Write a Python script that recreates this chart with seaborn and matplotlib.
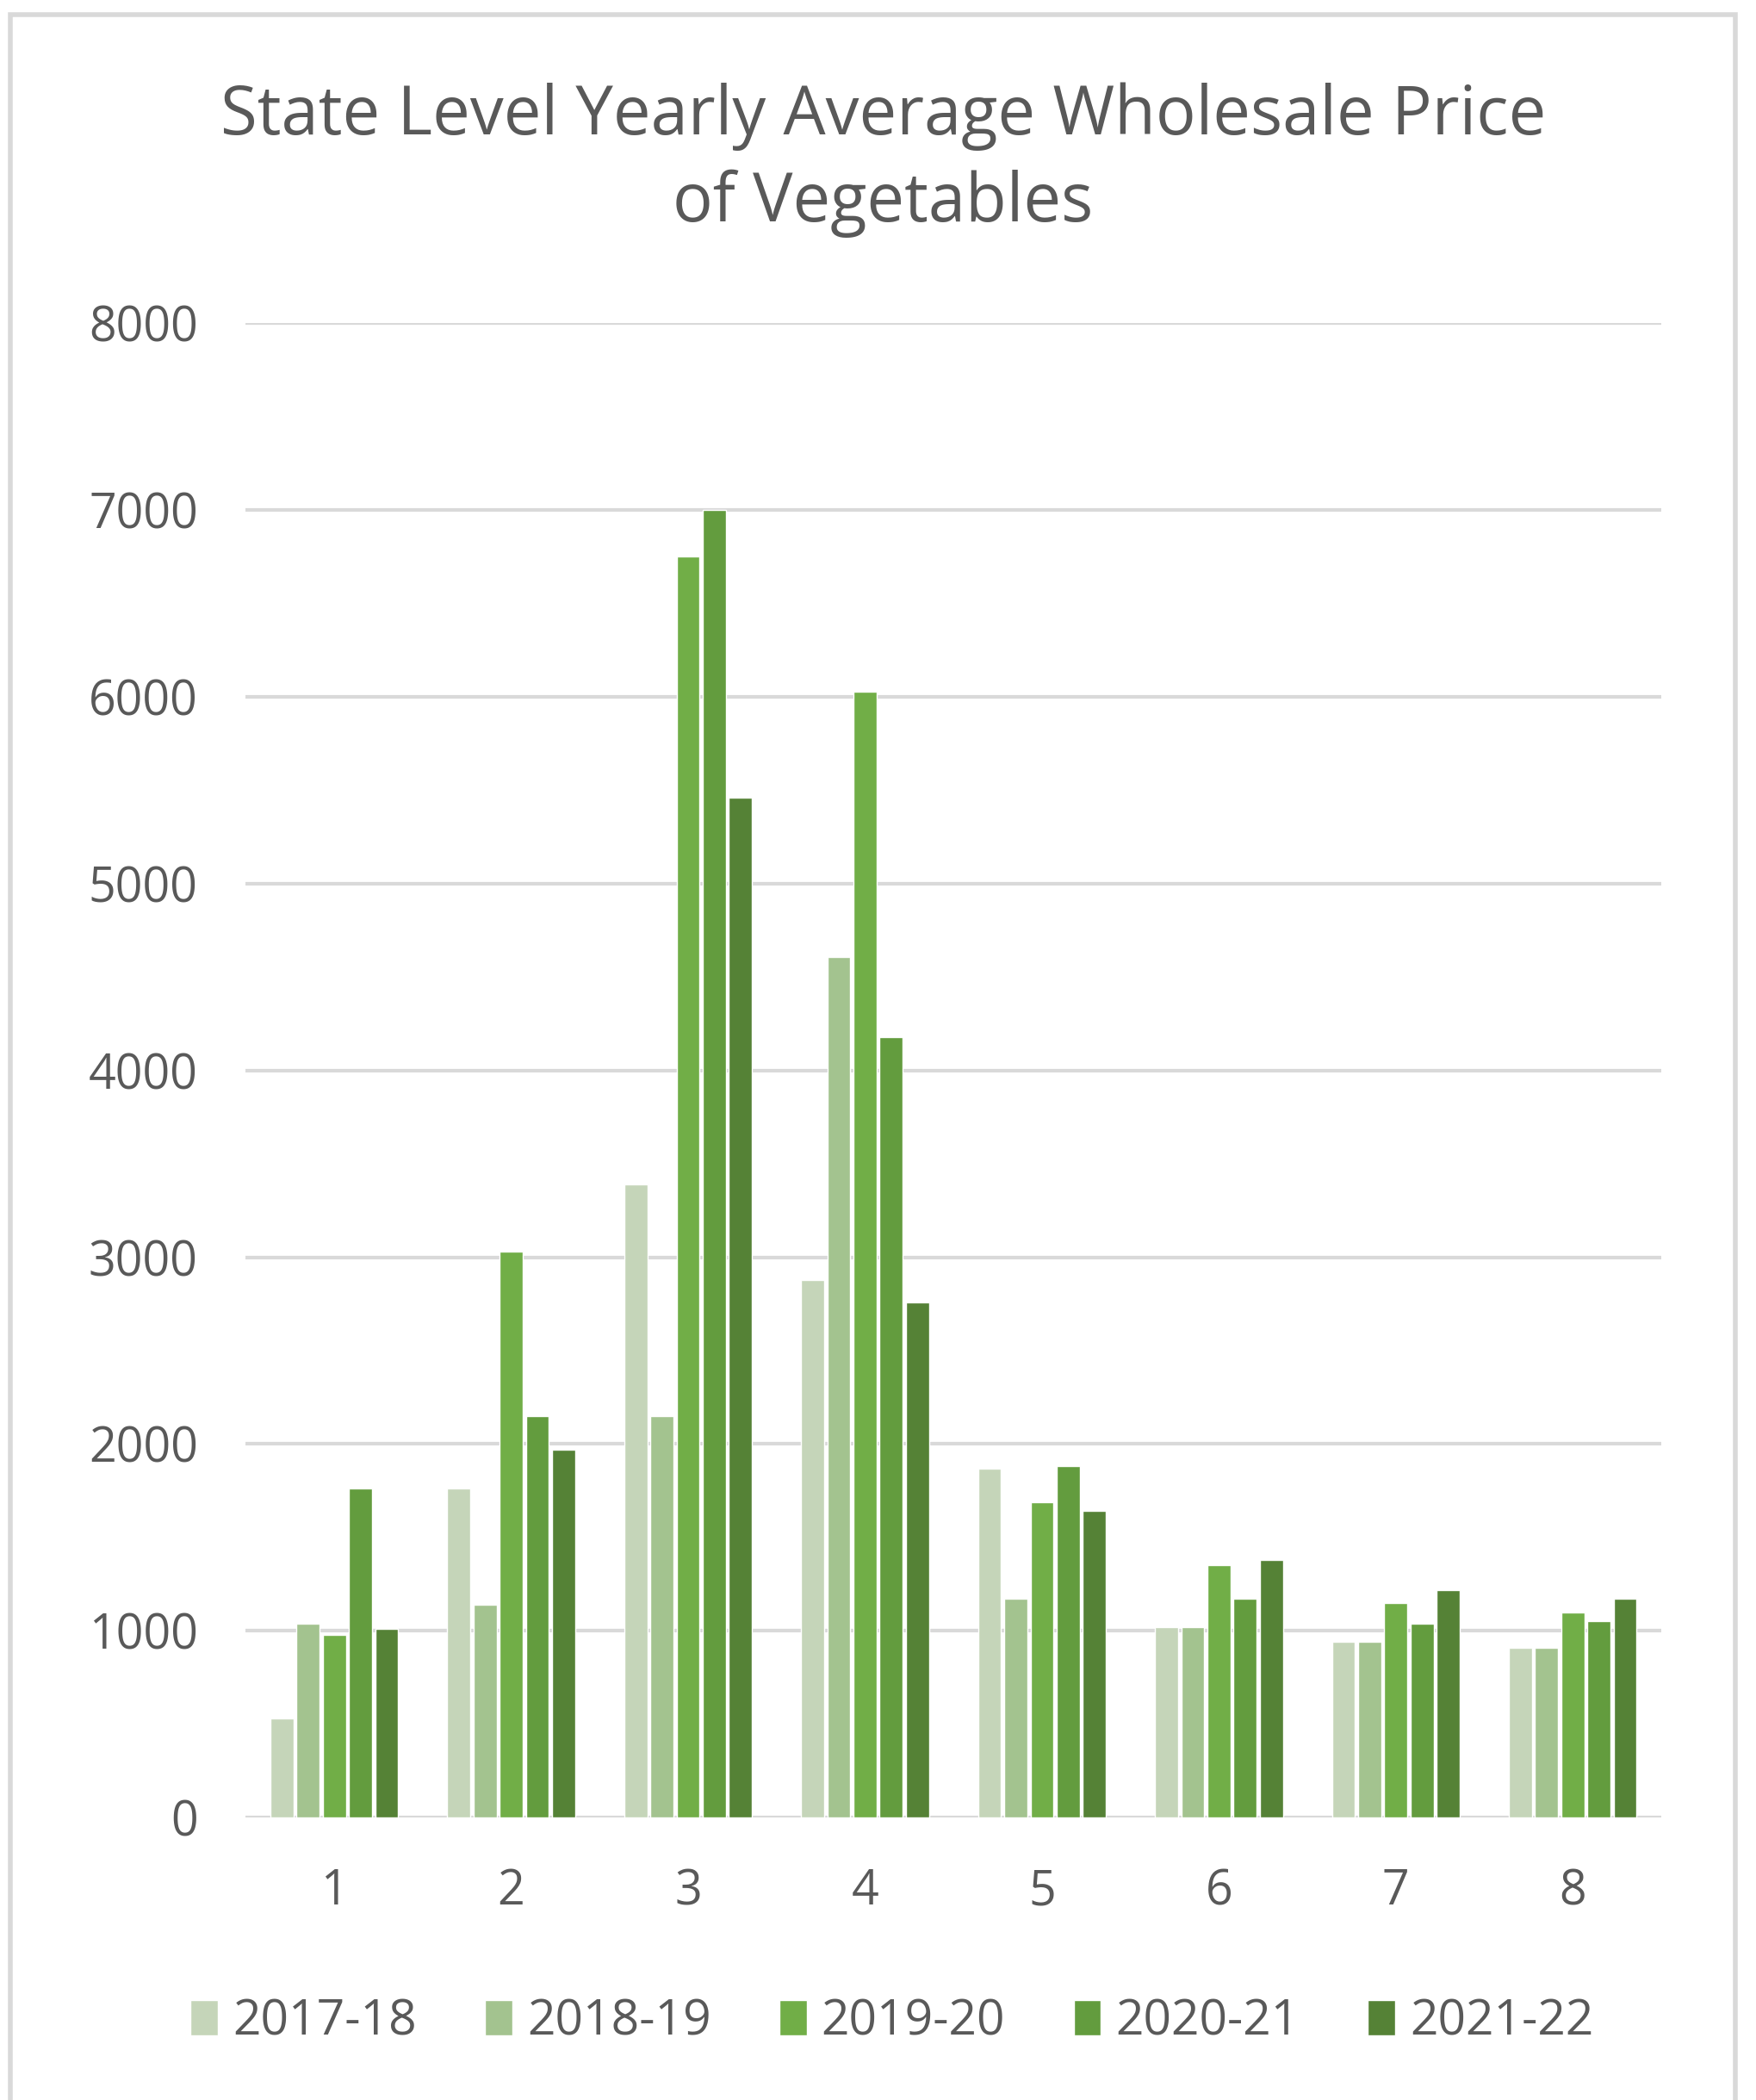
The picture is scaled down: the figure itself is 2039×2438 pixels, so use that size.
import matplotlib
matplotlib.use("Agg")
import matplotlib.pyplot as plt
import seaborn as sns
import pandas as pd
from matplotlib.patches import Rectangle

# values
categories = ["1", "2", "3", "4", "5", "6", "7", "8"]
years = ["2017-18", "2018-19", "2019-20", "2020-21", "2021-22"]
y2017 = [530, 1760, 3390, 2880, 1870, 1020, 940, 910]
y2018 = [1040, 1140, 2150, 4610, 1170, 1020, 940, 910]
y2019 = [980, 3030, 6750, 6030, 1690, 1350, 1150, 1100]
y2020 = [1760, 2150, 7000, 4180, 1880, 1170, 1040, 1050]
y2021 = [1010, 1970, 5460, 2760, 1640, 1380, 1220, 1170]
colors = ["#c5d5b9", "#a3c38f", "#71ae47", "#639c3e", "#558236"]

rows = []
for yr, vals in zip(years, [y2017, y2018, y2019, y2020, y2021]):
    for c, v in zip(categories, vals):
        rows.append({"cat": c, "year": yr, "price": v})
df = pd.DataFrame(rows)

sns.set_style("white")
plt.rcParams["font.family"] = ["Open Sans", "DejaVu Sans"]

fig = plt.figure(figsize=(20.39, 24.38), dpi=100)
ax = fig.add_axes([0.140, 0.1345, 0.806, 0.7115])

sns.barplot(data=df, x="cat", y="price", hue="year", order=categories,
            hue_order=years, palette=colors, width=0.74, gap=0.12,
            saturation=1, ax=ax, legend=True)

ax.set_ylim(0, 8000)
ax.set_yticks(range(0, 8001, 1000))
ax.yaxis.grid(True, color="#d9d9d9", linewidth=3)
ax.set_axisbelow(True)
for s in ax.spines.values():
    s.set_visible(False)
ax.set_xlabel("")
ax.set_ylabel("")
ax.tick_params(axis="both", length=0, labelsize=40, colors="#595959")
ax.tick_params(axis="y", pad=40)
ax.tick_params(axis="x", pad=42)

fig.suptitle("State Level Yearly Average Wholesale Price\nof Vegetables",
             x=0.503, y=0.961, fontsize=56, color="#595959",
             linespacing=1.37, va="top")

handles, labels = ax.get_legend_handles_labels()
ax.legend_.remove()
fig.legend(handles, labels, loc="center", bbox_to_anchor=(0.508, 0.037),
           ncol=5, frameon=False, fontsize=41, labelcolor="#595959",
           handlelength=0.55, handleheight=0.75, handletextpad=0.3,
           columnspacing=1.4)

fig.patches.append(Rectangle((0.006, -0.05), 0.982, 1.043,
                             transform=fig.transFigure, fill=False,
                             edgecolor="#d9d9d9", linewidth=4))

fig.savefig("out.png", dpi=100, facecolor="white")
